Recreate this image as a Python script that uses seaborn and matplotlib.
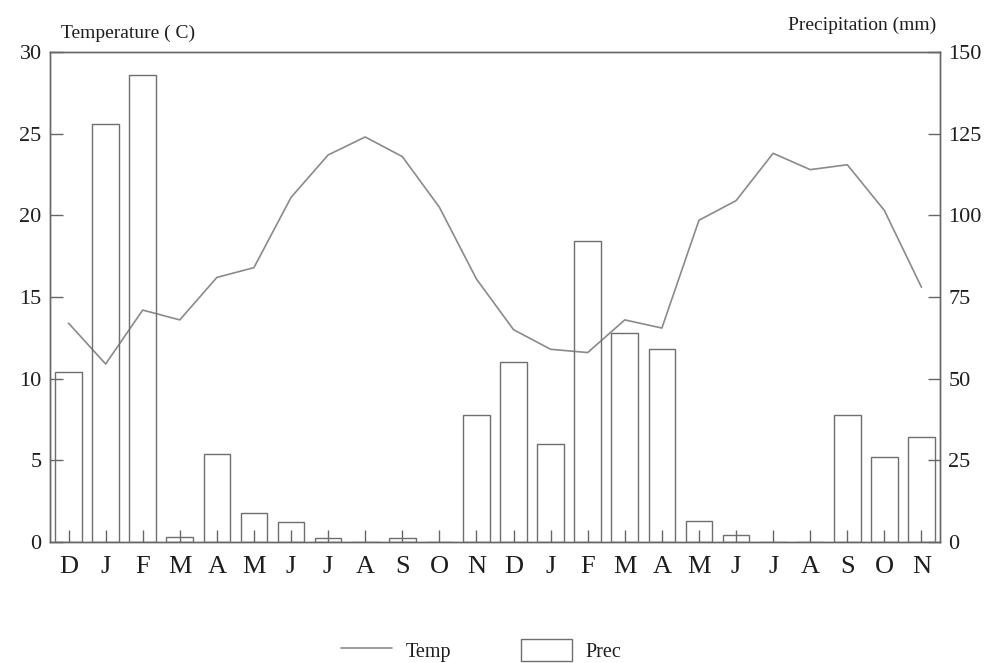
import matplotlib
matplotlib.use("Agg")
import matplotlib.pyplot as plt
import seaborn as sns
import pandas as pd
from matplotlib.lines import Line2D
from matplotlib.patches import Patch

months = ["D", "J", "F", "M", "A", "M", "J", "J", "A", "S", "O", "N",
          "D", "J", "F", "M", "A", "M", "J", "J", "A", "S", "O", "N"]
temp = [13.4, 10.9, 14.2, 13.6, 16.2, 16.8, 21.1, 23.7, 24.8, 23.6, 20.5, 16.1,
        13.0, 11.8, 11.6, 13.6, 13.1, 19.7, 20.9, 23.8, 22.8, 23.1, 20.3, 15.6]
prec = [52, 128, 143, 1.5, 27, 9, 6, 1.3, 0, 1.3, 0, 39,
        55, 30, 92, 64, 59, 6.3, 2, 0, 0, 39, 26, 32]

df = pd.DataFrame({"idx": range(len(months)), "month": months,
                   "Temp": temp, "Prec": prec})

sns.set_style("white")
plt.rcParams["font.family"] = ["Liberation Serif", "DejaVu Serif"]

fig = plt.figure(figsize=(9.9, 6.63), dpi=100)
ax = fig.add_axes([0.0505, 0.1825, 0.899, 0.739])
ax2 = ax.twinx()

line_col = "#8a8a8a"
edge_col = "#6e6e6e"
spine_col = "#666666"
text_col = "#1e1e1e"

sns.barplot(data=df, x="idx", y="Prec", ax=ax2, width=0.72,
            facecolor="none", edgecolor=edge_col, linewidth=1.0)
sns.lineplot(data=df, x="idx", y="Temp", ax=ax, color=line_col, linewidth=1.2)

ax.set_xlim(-0.5, len(months) - 0.5)
ax.set_ylim(0, 30)
ax2.set_ylim(0, 150)
ax.set_yticks(range(0, 31, 5))
ax2.set_yticks(range(0, 151, 25))
ax.set_xticks(range(len(months)))
ax.set_xticklabels(months)
ax.set_xlabel("")
ax.set_ylabel("")
ax2.set_xlabel("")
ax2.set_ylabel("")

for a in (ax, ax2):
    for s in a.spines.values():
        s.set_visible(True)
        s.set_color(spine_col)
        s.set_linewidth(1.0)

ax.tick_params(axis="y", direction="in", length=9, width=1, color=spine_col,
               labelsize=16, pad=6, left=True, labelcolor=text_col)
ax2.tick_params(axis="y", direction="in", length=9, width=1, color=spine_col,
                labelsize=16, pad=6, right=True, labelcolor=text_col)
ax.tick_params(axis="x", direction="in", length=9, width=1, color=spine_col,
               labelsize=19, pad=10, bottom=True, labelcolor=text_col)

fig.text(0.062, 0.95, "Temperature ( C)", fontsize=14, ha="left", va="center",
         color=text_col)
fig.text(0.946, 0.962, "Precipitation (mm)", fontsize=14, ha="right",
         va="center", color=text_col)

handles = [Line2D([0], [0], color=line_col, linewidth=1.2),
           Patch(facecolor="white", edgecolor=edge_col, linewidth=1.0)]
fig.legend(handles, ["Temp", "Prec"], loc="center",
           bbox_to_anchor=(0.486, 0.019), ncol=2, frameon=False,
           fontsize=14.5, handlelength=2.5, handleheight=1.3,
           columnspacing=3.5, handletextpad=0.67, labelcolor=text_col)

fig.savefig("out.png", dpi=100)
